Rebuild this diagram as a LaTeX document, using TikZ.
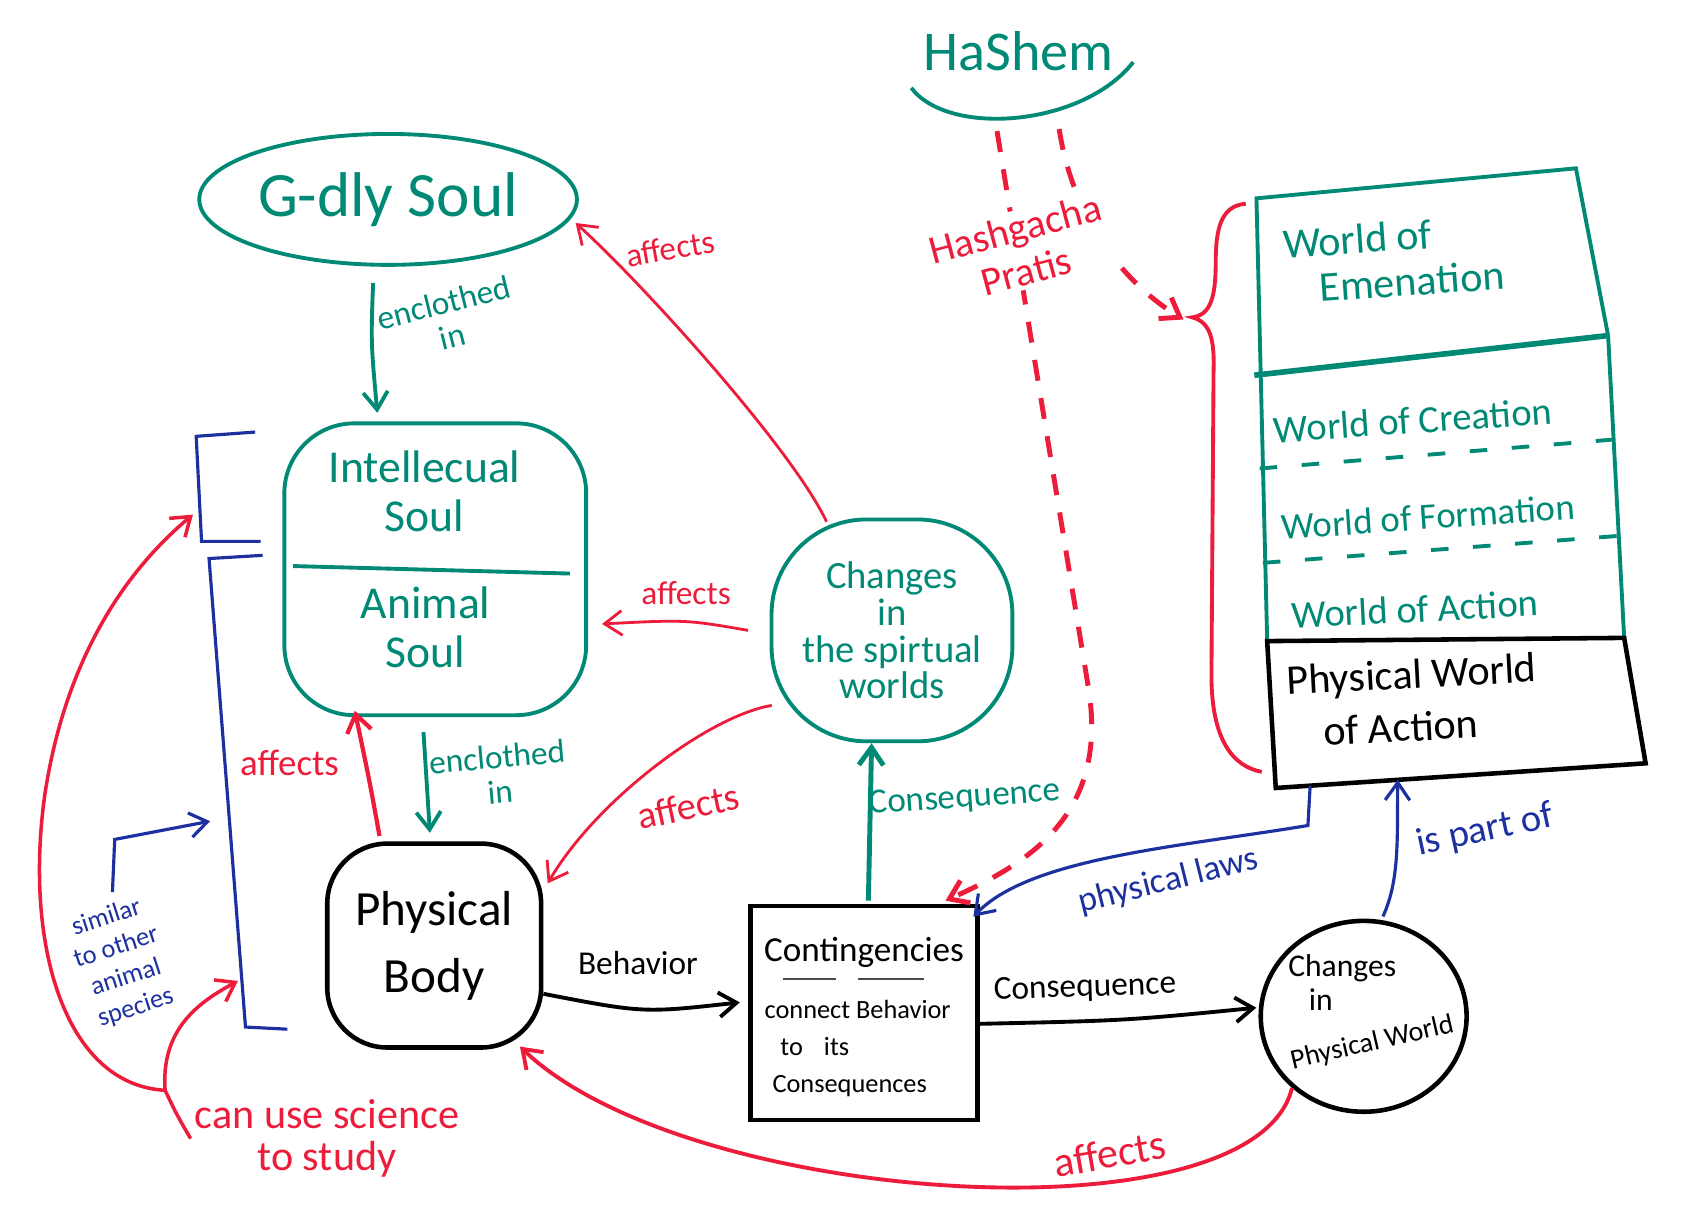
\documentclass[tikz,border=0pt]{standalone}
\usepackage{fontspec}
\setmainfont{Carlito}
\usetikzlibrary{arrows.meta,calc,shapes.geometric}
\definecolor{tealpen}{RGB}{0,138,118}
\definecolor{redpen}{RGB}{236,28,58}
\definecolor{bluepen}{RGB}{28,48,160}
\newcommand{\handsize}[2]{\fontsize{#1}{#2}\selectfont}

\begin{document}
\begin{tikzpicture}[x=0.01072cm, y=-0.01072cm,
        barb/.style={-{Straight Barb[length=5pt,width=7pt]}},
        tealpath/.style={draw=tealpen, line width=1.1pt},
        blackpath/.style={draw=black, line width=1.3pt},
        redpath/.style={draw=redpen, line width=0.8pt},
        bluepath/.style={draw=bluepen, line width=0.9pt},
        tealtext/.style={text=tealpen, align=center, inner sep=1pt},
        redtext/.style={text=redpen, align=center, inner sep=1pt, 
        font=\handsize{10}{11}},
        bluetext/.style={text=bluepen, align=center, inner sep=1pt},
        blacktext/.style={text=black, align=center, inner sep=1pt}]
        \fill[white] (0,0) rectangle (1568,1136);
        \useasboundingbox (0,0) rectangle (1568,1136);

        \node[tealtext, font=\handsize{16}{18}] (hashem) at (950,48) {HaShem};
        \draw[tealpath] (850,82) .. controls (885,128) and (1010,118) .. 
        (1057,58);

        \node[tealpath, ellipse, minimum width=3.27cm, minimum height=1.31cm, 
        tealtext, font=\handsize{18}{20}] (gsoul) at (362,186) {G-dly Soul};
        \node[tealpath, rounded corners=0.7cm, minimum width=3.02cm, 
        minimum height=2.92cm] (soul) at (406,531) {};
        \node[tealtext, font=\handsize{13}{14}] (intel) at (396,458) 
        {Intellecual\\Soul};
        \node[tealtext, font=\handsize{13}{14}] (animal) at (397,585) 
        {Animal\\Soul};
        \draw[tealpath] ($(soul.west)+(10,-3)$) -- ($(soul.east)+(-17,4)$);
        \node[blackpath, rounded corners=0.6cm, minimum width=2.14cm, 
        minimum height=2.04cm, blacktext, font=\handsize{14}{19}] (body) 
        at (405,882) {Physical\\Body};
        \node[tealpath, rounded corners=0.95cm, minimum width=2.41cm, 
        minimum height=2.22cm, tealtext, font=\handsize{11}{10.5}] (spirit) 
        at (832,588) {Changes\\in\\the spirtual\\worlds};

        \node[blackpath, minimum width=2.27cm, minimum height=2.14cm] (cont) 
        at (806,945) {};
        \node[blacktext, font=\handsize{10}{12}] (conttitle) at (806,888) 
        {Contingencies};
        \draw[black!70, line width=0.6pt] (730,913) -- (780,913) (800,913) 
        -- (862,913);
        \node[blacktext, align=left, font=\handsize{7.5}{10.5}] (contnote) 
        at (800,978) {connect Behavior\\\hspace{0.6em}to\hspace{0.8em}its\\
        \hspace{0.3em}Consequences};

        \node[blackpath, ellipse, minimum width=2.06cm, minimum height=1.91cm] 
        (cpw) at (1272,948) {};
        \node[blacktext, font=\handsize{9}{10}] (cpwa) at (1252,903) {Changes};
        \node[blacktext, font=\handsize{9}{10}] (cpwb) at (1232,932) {in};
        \node[blacktext, rotate=13, font=\handsize{8}{9}] (cpwc) 
        at (1280,973) {Physical World};

        \coordinate (wtl) at (1172,185);
        \coordinate (wtr) at (1470,157);
        \coordinate (wml) at (1170,350);
        \coordinate (wmr) at (1500,313);
        \coordinate (wd1l) at (1175,437);
        \coordinate (wd1r) at (1505,410);
        \coordinate (wd2l) at (1178,525);
        \coordinate (wd2r) at (1508,500);
        \coordinate (pwtl) at (1182,598);
        \coordinate (pwtr) at (1515,595);
        \coordinate (pwbr) at (1535,712);
        \coordinate (pwbl) at (1190,735);
        \draw[tealpath] (pwtl) -- (wtl) -- (wtr) -- (wmr) -- (pwtr);
        \draw[tealpath, line width=1.6pt] (wml) -- (wmr);
        \draw[tealpath, dash pattern=on 5pt off 7pt] (wd1l) -- (wd1r) 
        (wd2l) -- (wd2r);
        \draw[blackpath] (pwtl) -- (pwtr) -- (pwbr) -- (pwbl) -- cycle;
        \node[tealtext, align=left, rotate=4, font=\handsize{12}{13}] (emen) 
        at (1300,242) {World of\\\hspace{0.8em}Emenation};
        \node[tealtext, rotate=4, font=\handsize{11}{12}] (creation) 
        at (1318,392) {World of Creation};
        \node[tealtext, rotate=4, font=\handsize{10.5}{12}] (formation) 
        at (1332,482) {World of Formation};
        \node[tealtext, rotate=3, font=\handsize{11}{12}] (action) 
        at (1320,568) {World of Action};
        \node[blacktext, align=left, rotate=3, font=\handsize{12}{15}] (phys) 
        at (1318,653) {Physical World\\\hspace{0.8em}of Action};
        \coordinate (physlaw) at ($(pwbl)!0.093!(pwbr)$);
        \coordinate (partof) at ($(pwbl)!0.33!(pwbr)$);

        \coordinate (bracetip) at (1112,296);
        \draw[redpath, line width=1.1pt] (1162,190) .. controls (1138,192) 
        and (1134,215) .. (1134,245) .. controls (1134,280) and (1128,294) 
        .. (bracetip) .. controls (1128,300) and (1133,315) .. (1132,345) 
        -- (1130,630) .. controls (1130,690) and (1150,715) .. (1177,720);

        \draw[tealpath, barb] ($(gsoul.south)+(-14,15)$) .. controls 
        (346,320) .. ($(soul.north)+(-54,-8)$);
        \node[tealtext, rotate=14, font=\handsize{9.5}{10}] (encl1) 
        at (418,298) {enclothed\\in};
        \draw[tealpath, barb] ($(soul.south)+(-11,14)$) -- 
        ($(body.north)+(-4,-8)$);
        \node[tealtext, rotate=5, font=\handsize{9.5}{10}] (encl2) 
        at (465,722) {enclothed\\in};

        \draw[redpath, line width=1.2pt, barb] ($(body.north)+(-51,-5)$) 
        .. controls (345,730) .. ($(soul.south)+(-75,-6)$);
        \node[redtext, font=\handsize{10.5}{11}] (aff1) at (270,712) 
        {affects};
        \draw[redpath, barb] ($(spirit.west)+(-20,0)$) .. controls (640,578) 
        .. ($(soul.east)+(13,51)$);
        \node[redtext, font=\handsize{9.5}{10}] (aff2) at (640,553) {affects};
        \draw[redpath, barb] ($(spirit.north)+(-61,4)$) .. controls (740,420) 
        and (600,265) .. ($(gsoul.east)+(-3,22)$);
        \node[redtext, rotate=10, font=\handsize{9.5}{10}] (aff3) 
        at (625,232) {affects};
        \draw[redpath, barb] ($(spirit.west)+(2,70)$) .. controls (660,668) 
        and (555,748) .. ($(body.east)+(4,-58)$);
        \node[redtext, rotate=12, font=\handsize{11}{12}] (aff4) 
        at (642,752) {affects};

        \draw[tealpath, line width=1.4pt, barb] ($(cont.north)+(4,-3)$) -- 
        ($(spirit.south)+(-19,0)$);
        \node[tealtext, rotate=4, font=\handsize{10}{11}] (conseq1) 
        at (900,745) {Consequence};
        \draw[blackpath, line width=1.1pt, barb] ($(body.east)+(0,45)$) 
        .. controls (600,945) .. ($(cont.west)+(-8,-10)$);
        \node[blacktext, font=\handsize{9.5}{10}] (behav) at (595,898) 
        {Behavior};
        \draw[blackpath, line width=1.1pt, barb] ($(cont.east)+(0,10)$) 
        .. controls (1050,952) .. ($(cpw.west)+(-2,-8)$);
        \node[blacktext, rotate=2, font=\handsize{9.5}{10}] (conseq2) 
        at (1012,922) {Consequence};

        \draw[redpath, line width=1.1pt, barb] (cpw.-135) .. controls 
        (1170,1160) and (640,1125) .. ($(body.south)+(80,-3)$);
        \node[redtext, rotate=10, font=\handsize{12}{12}] (aff5) 
        at (1035,1076) {affects};

        \draw[bluepath, barb] (physlaw) -- (1220,770) .. controls (1100,790) 
        and (960,800) .. ($(cont.north east)+(-6,12)$);
        \node[bluetext, rotate=14, font=\handsize{10}{11}] (laws) 
        at (1090,822) {physical laws};
        \draw[bluepath, barb] ($(cpw.north)+(18,-2)$) .. controls (1306,820) 
        and (1303,780) .. (partof);
        \node[bluetext, rotate=12, font=\handsize{11}{12}] (part) 
        at (1385,775) {is part of};

        \draw[redpath, line width=1.4pt, dash pattern=on 6pt off 5pt, barb] 
        ($(hashem.south)+(-20,52)$) -- (1015,640) .. controls (1035,760) 
        and (960,805) .. ($(cont.north east)+(-32,-3)$);
        \draw[redpath, line width=1.4pt, dash pattern=on 6pt off 5pt, barb] 
        ($(hashem.south)+(38,50)$) .. controls (1000,200) and (1045,262) 
        .. ($(bracetip)+(-8,2)$);
        \node[redtext, rotate=15, fill=white, font=\handsize{11.5}{12.5}] 
        (hashg) at (952,233) {Hashgacha\\Pratis};

        \draw[bluepath] (238,403) -- (183,407) -- (188,505) -- (243,505);
        \draw[bluepath] (245,518) -- (195,521) -- (229,958) -- (268,960);
        \coordinate (upbr) at (180,480);
        \coordinate (lowbr) at (222,915);
        \coordinate (lowbrtop) at (196,766);
        \node[bluetext, rotate=18, font=\handsize{7.5}{9}] (similar) 
        at (113,898) {similar\\to other\\animal\\species};
        \draw[bluepath, barb] ($(similar.north)+(10,-10)$) -- (107,783) -- 
        (lowbrtop);

        \node[redtext, font=\handsize{12}{12}] (science) at (305,1062) 
        {can use science\\to study};
        \coordinate (junction) at (154,1017);
        \draw[redpath, line width=1pt] (science.west) .. controls (165,1040) 
        .. (junction);
        \draw[redpath, line width=1pt, barb] (junction) .. controls (60,1012) 
        and (22,880) .. (42,740) .. controls (62,610) and (120,530) .. (upbr);
        \draw[redpath, line width=1pt, barb] (junction) .. controls (150,960) 
        and (185,935) .. (lowbr);
    \end{tikzpicture}
\end{document}
